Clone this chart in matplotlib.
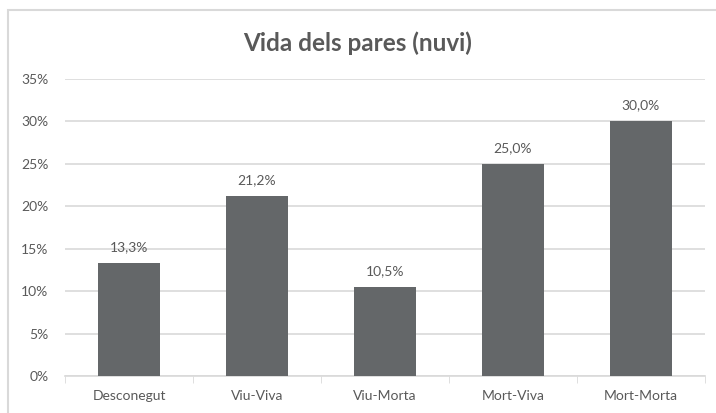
import matplotlib.pyplot as plt
from matplotlib.patches import Rectangle
import numpy as np

categories = ['Desconegut', 'Viu-Viva', 'Viu-Morta', 'Mort-Viva', 'Mort-Morta']
values = [13.3, 21.2, 10.5, 25.0, 30.0]
labels = ['13,3%', '21,2%', '10,5%', '25,0%', '30,0%']
y_ticks = [0, 5, 10, 15, 20, 25, 30, 35]

plt.rcParams['font.family'] = ['Lato', 'DejaVu Sans']
txt = '#595959'

fig = plt.figure(figsize=(7.16, 4.13), dpi=100)
# chart border: only top and left edges are inside the picture
fig.patches.append(Rectangle((8 / 716, -0.1), 1.2, 1.1 - 10 / 413, transform=fig.transFigure,
                             fill=False, edgecolor='#d9d9d9', linewidth=1.5))
ax = fig.add_axes([65 / 716, 1 - 376 / 413, 640 / 716, 297 / 413])

x = np.arange(len(categories))
ax.bar(x, values, width=0.48, color='#646769', zorder=3)
for xi, v, lab in zip(x, values, labels):
    ax.text(xi, v + 1.2, lab, ha='center', va='bottom', fontsize=10, color=txt)

ax.set_xlim(-0.5, len(categories) - 0.5)
ax.set_ylim(0, 35)
ax.set_yticks(y_ticks)
ax.set_yticklabels([f'{t}%' for t in y_ticks], fontsize=10, color=txt)
ax.set_xticks(x)
ax.set_xticklabels(categories, fontsize=10, color=txt)
ax.set_xticks(np.arange(-0.5, len(categories)), minor=True)
ax.tick_params(axis='x', which='major', length=0, pad=10)
ax.tick_params(axis='x', which='minor', length=5, color='#d9d9d9')
ax.tick_params(axis='y', length=0, pad=12)
ax.grid(axis='y', color='#d9d9d9', linewidth=1.2, zorder=0)
for s in ['top', 'right', 'left']:
    ax.spines[s].set_visible(False)
ax.spines['bottom'].set_color('#d9d9d9')
ax.spines['bottom'].set_linewidth(1.2)

fig.text(0.5, 1 - 43 / 413, 'Vida dels pares (nuvi)', ha='center', va='center',
         fontsize=17.5, fontweight='bold', color=txt)

plt.savefig('out.png', dpi=100)
